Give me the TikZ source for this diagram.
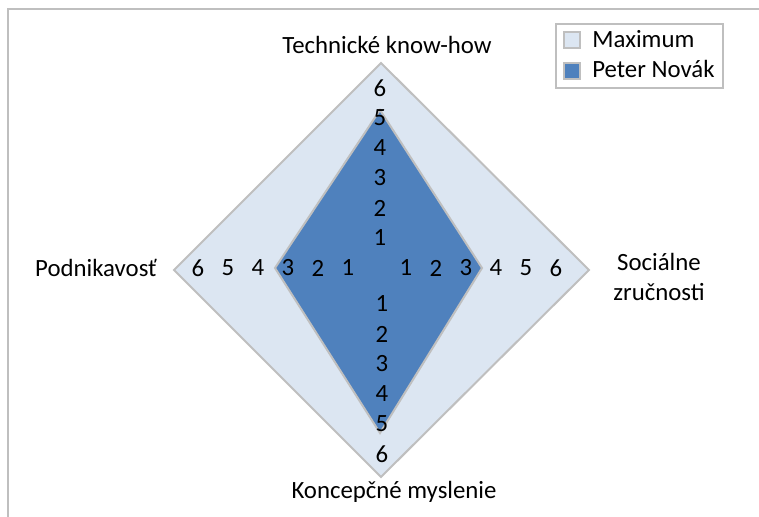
\documentclass[tikz,border=0pt]{standalone}
\usepackage{fontspec}
\setmainfont{Carlito}
\definecolor{maxfill}{RGB}{220,230,242}
\definecolor{peterfill}{RGB}{79,129,189}
\definecolor{chartgray}{RGB}{191,191,191}
\begin{document}
\begin{tikzpicture}[
  x = 0.5pt, y = -0.5pt,
  font = \fontsize{12.4}{15}\selectfont,
  area/.style   = {draw = chartgray, line width = 1pt, line join = miter},
  tick/.style   = {inner sep = 0pt},
  axis/.style   = {inner sep = 0pt, align = center},
  legbox/.style = {rectangle, draw = chartgray, line width = 1pt, fill = white},
  swatch/.style = {rectangle, draw = chartgray, line width = 1pt, minimum size = 8pt, inner sep = 0pt},
  entry/.style  = {anchor = west, inner sep = 0pt}
]
  \useasboundingbox (0,0) rectangle (759,517);
  \draw[chartgray, line width = 1pt] (759,9) -- (8,9) -- (8,517);

  % areas
  \filldraw[area, fill = maxfill]   (381,63)  -- (589,270) -- (381,477) -- (174,270) -- cycle;
  \filldraw[area, fill = peterfill] (380,110) -- (482,268) -- (380,433) -- (275,268) -- cycle;

  % scale labels
  \foreach \k in {1,...,6} {
    \node[tick] (up\k)    at (380, 268-30*\k) {\k};
    \node[tick] (down\k)  at (382, 274+30*\k) {\k};
    \node[tick] (left\k)  at (378-30*\k, 268) {\k};
    \node[tick] (right\k) at (376+30*\k, 268) {\k};
  }

  \node[axis] (tech) at (387,45)  {Technické know-how};
  \node[axis] (soc)  at (659,277) {Sociálne\\zručnosti};
  \node[axis] (konc) at (394,492) {Koncepčné myslenie};
  \node[axis] (podn) at (96,268)  {Podnikavosť};

  % legend
  \node[legbox, minimum width = 83.5pt, minimum height = 32pt] (legend) at (639.5,56) {};
  \node[swatch, fill = maxfill]   (maxkey)   at (572,40) {};
  \node[swatch, fill = peterfill] (peterkey) at (572,71) {};
  \node[entry] (maxtext)   at (592,39) {Maximum};
  \node[entry] (petertext) at (592,69) {Peter Novák};
\end{tikzpicture}
\end{document}
